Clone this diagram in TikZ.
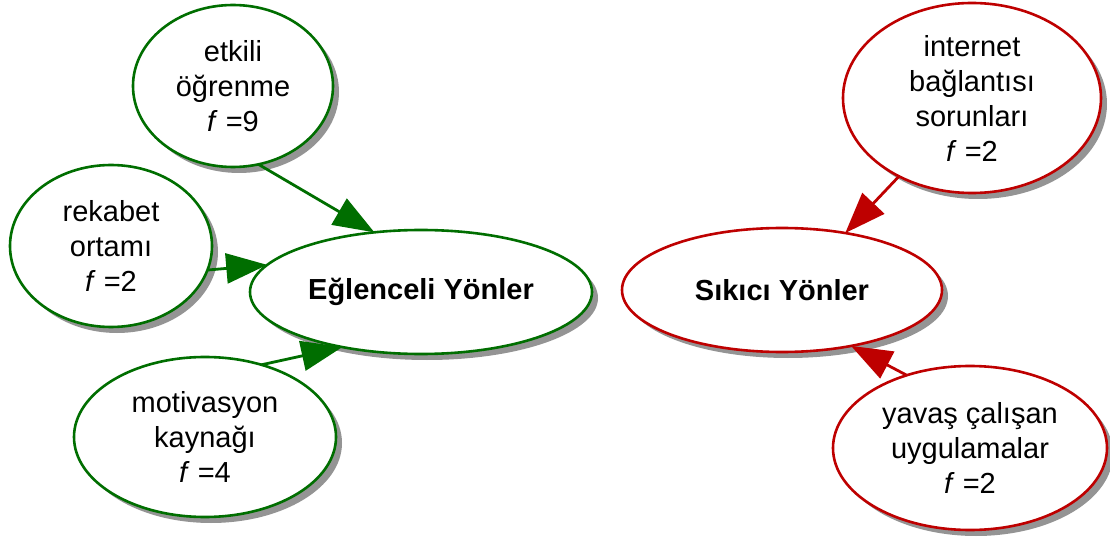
\documentclass[tikz,border=0pt]{standalone}
\usepackage{fontspec}
\setmainfont{Liberation Sans}
\usetikzlibrary{shapes.geometric,shadows,arrows.meta}
\definecolor{posgreen}{RGB}{0,110,0}
\definecolor{negred}{RGB}{190,0,0}
\begin{document}
\begin{tikzpicture}[x=0.5pt,y=-0.5pt,font=\fontsize{14.5}{17.5}\selectfont]
  \tikzset{bubble/.style={ellipse, draw, line width=1.3pt, fill=white, inner sep=0pt, outer sep=0pt, align=center,
      drop shadow={shadow xshift=3pt, shadow yshift=-3pt, fill=black!42, opacity=1}},
    good/.style={bubble, draw=posgreen},
    bad/.style={bubble, draw=negred},
    link/.style={line width=1.4pt, -{Triangle[length=20.5pt,width=15pt]}}}
  \useasboundingbox (0,0) rectangle (1110,540);
  \node[good, minimum width=100pt, minimum height=81pt] (etkili) at (233,86) {etkili\\öğrenme\\\textit{f} =9};
  \node[good, minimum width=101pt, minimum height=81pt] (rekabet) at (111,246) {rekabet\\ortamı\\\textit{f} =2};
  \node[good, minimum width=131pt, minimum height=80pt] (motiv) at (205,437) {motivasyon\\kaynağı\\\textit{f} =4};
  \node[good, minimum width=171pt, minimum height=62pt] (eglen) at (421,292) {\textbf{Eğlenceli Yönler}};
  \node[bad, minimum width=160pt, minimum height=62pt] (sikici) at (782,290) {\textbf{Sıkıcı Yönler}};
  \node[bad, minimum width=129pt, minimum height=95pt] (internet) at (972,98) {internet\\bağlantısı\\sorunları\\\textit{f} =2};
  \node[bad, minimum width=137pt, minimum height=82pt] (yavas) at (970,448) {yavaş çalışan\\uygulamalar\\\textit{f} =2};
  \draw[link, posgreen] (etkili.-72) -- (eglen.128);
  \draw[link, posgreen] (rekabet.-14) -- (eglen.170);
  \draw[link, posgreen] (motiv.52) -- (eglen.215);
  \draw[link, negred] (internet.227) -- (sikici.42);
  \draw[link, negred] (yavas.131) -- (sikici.-39);
\end{tikzpicture}
\end{document}
